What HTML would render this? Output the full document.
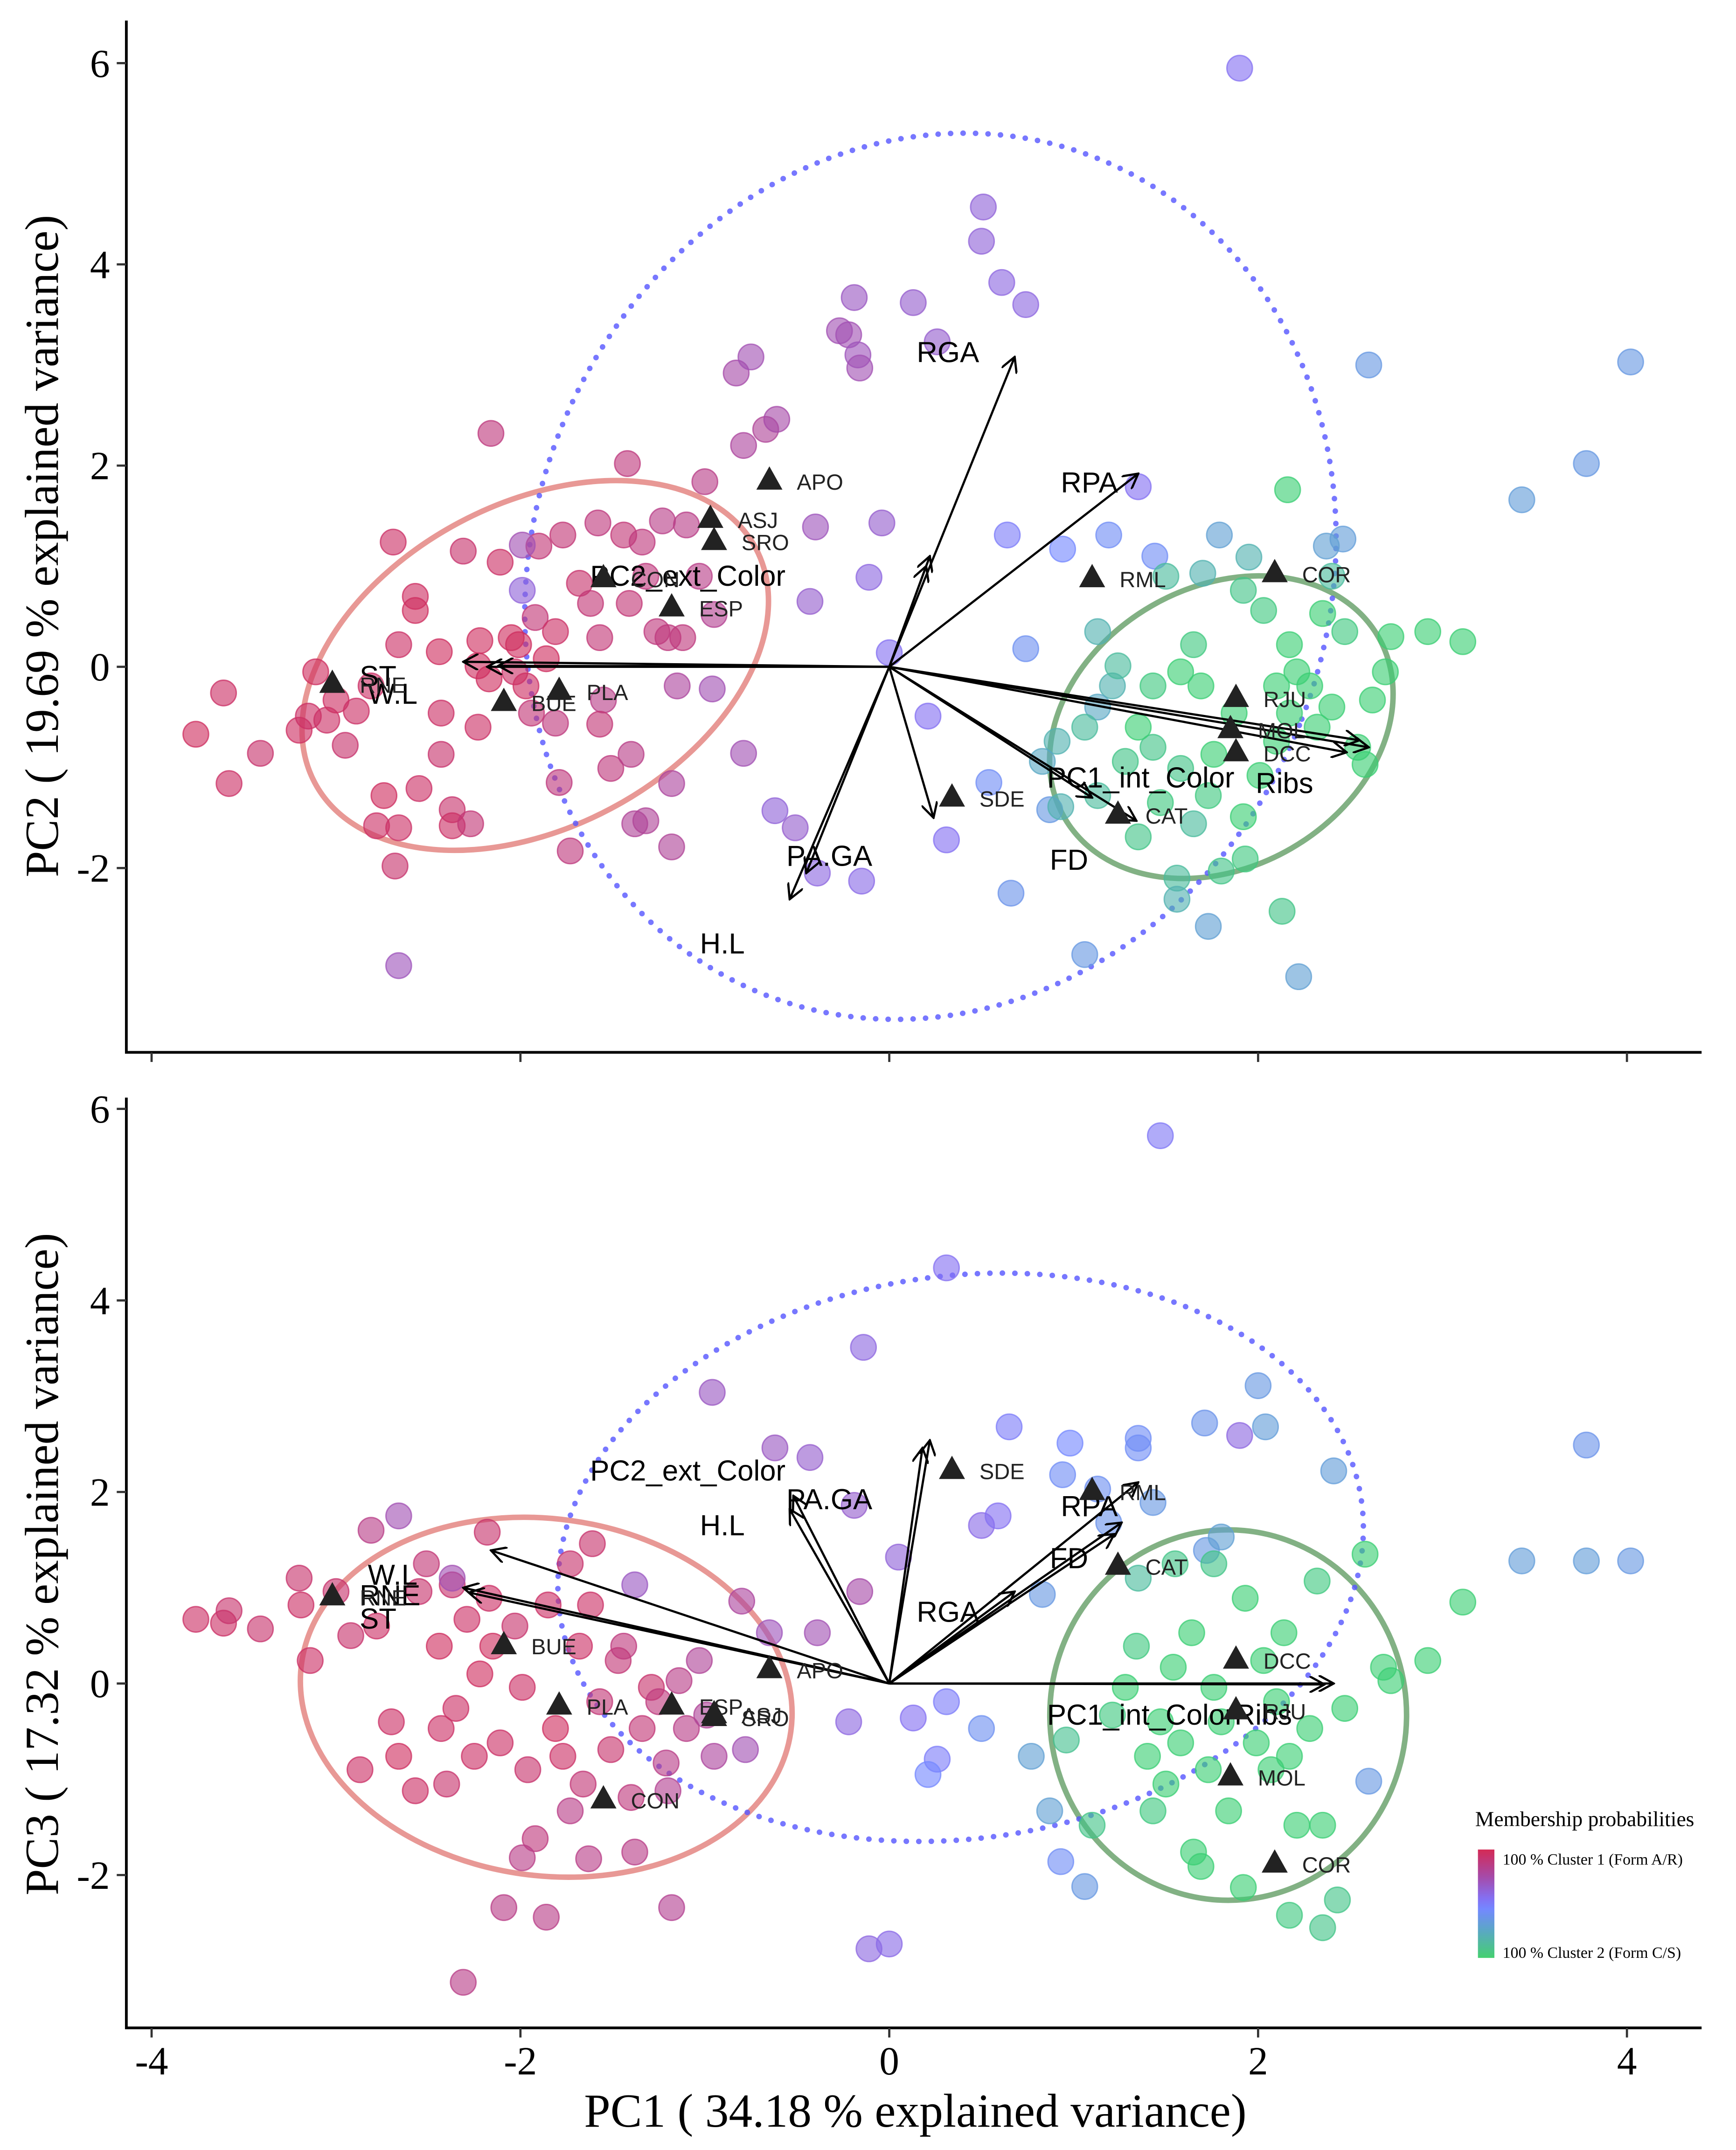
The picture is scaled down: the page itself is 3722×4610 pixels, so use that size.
<!DOCTYPE html>
<html><head><meta charset="utf-8"><style>
html,body{margin:0;padding:0;background:#fff;}
svg{display:block;}
</style></head><body>
<svg id="chart" xmlns="http://www.w3.org/2000/svg" width="3722" height="4610" viewBox="0 0 1265 1567">
<defs>
<linearGradient id="legGrad" x1="0" y1="0" x2="0" y2="1">
<stop offset="0" stop-color="#d42a55"/><stop offset="0.25" stop-color="#a64aa8"/><stop offset="0.45" stop-color="#8470f2"/><stop offset="0.55" stop-color="#7488ff"/><stop offset="0.75" stop-color="#5aa8c4"/><stop offset="1" stop-color="#45d070"/>
</linearGradient>
<marker id="ah" viewBox="0 0 12 12" refX="11" refY="6" markerWidth="12" markerHeight="12" markerUnits="userSpaceOnUse" orient="auto"><path d="M0,0 L11,6 L0,12" fill="none" stroke="#000" stroke-width="1.6"/></marker>
</defs>
<g id="top"></g>
<g id="bot"></g>
<g font-family="Liberation Serif, serif">
<text x="1075" y="1331" font-size="15.5">Membership probabilities</text>
<rect x="1077" y="1348" width="12" height="79" fill="url(#legGrad)"/>
<text x="1095" y="1359" font-size="11.5">100 % Cluster 1 (Form A/R)</text>
<text x="1095" y="1427" font-size="11.5">100 % Cluster 2 (Form C/S)</text>
</g>
<text x="667" y="1550" font-family="Liberation Serif, serif" font-size="34.5" text-anchor="middle">PC1 ( 34.18 % explained variance)</text>
<text transform="translate(42,398) rotate(-90)" font-family="Liberation Serif, serif" font-size="34.5" text-anchor="middle">PC2 ( 19.69 % explained variance)</text>
<text transform="translate(42,1140) rotate(-90)" font-family="Liberation Serif, serif" font-size="34.5" text-anchor="middle">PC3 ( 17.32 % explained variance)</text>
</svg>
<script>
// ---- data: top panel (PC1 vs PC2) ----
const topPC1 = [-3.76,-3.61,-3.58,-3.41,-3.2,-3.15,-3.11,-3.05,-3.0,-2.95,-2.89,-2.81,-2.74,-2.78,-2.66,-2.68,-2.69,-2.57,-2.57,-2.66,-2.44,-2.55,-2.43,-2.43,-2.37,-2.37,-2.27,-2.31,-2.22,-2.23,-2.23,-2.16,-2.17,-2.11,-2.05,-2.01,-2.03,-1.97,-1.92,-1.9,-1.86,-1.81,-1.81,-1.94,-1.79,-1.73,-1.77,-1.68,-1.62,-1.58,-1.57,-1.55,-1.51,-1.44,-1.42,-1.41,-1.4,-1.34,-1.32,-1.26,-1.23,-1.2,-1.12,-1.1,-1.03,-1.0,-0.95,-1.38,-1.32,-1.18,-1.18,-1.15,-1.57,
-2.66,-1.99,-1.99,-0.96,-0.83,-0.79,-0.79,-0.75,-0.67,-0.61,-0.4,-0.43,-0.27,-0.22,-0.19,-0.17,-0.16,-0.04,-0.11,0,0.13,0.26,0.5,0.51,0.61,0.74,-0.62,-0.51,-0.39,-0.15,0.21,0.31,0.64,1.9,1.35,
0.94,1.19,1.44,0.74,0.66,1.06,0.87,0.54,2.6,4.02,3.78,3.43,2.46,2.37,1.79,1.73,2.22,
2.16,1.5,1.7,1.95,1.92,2.03,2.17,2.21,2.35,2.4,2.47,2.72,2.92,3.11,2.69,2.58,2.4,2.28,2.17,2.1,2.01,1.92,1.93,1.8,1.56,1.56,2.13,1.65,1.73,1.58,1.43,1.35,1.43,1.58,1.69,1.21,1.13,1.06,0.91,0.83,0.93,1.35,1.47,1.13,1.28,1.76,1.87,2.1,2.32,2.54,2.62,1.24,1.13,1.65];
const topPC2 = [-0.67,-0.26,-1.16,-0.86,-0.63,-0.49,-0.05,-0.53,-0.33,-0.78,-0.44,-0.19,-1.28,-1.58,-1.6,-1.98,1.24,0.7,0.56,0.22,0.15,-1.21,-0.87,-0.46,-1.42,-1.58,-1.56,1.15,0.26,0.01,-0.6,2.32,-0.12,1.04,0.29,0.22,-0.05,-0.19,0.49,1.2,0.08,0.35,-0.56,-0.46,-1.15,-1.83,1.31,0.83,0.63,1.43,0.29,-0.33,-1.01,1.31,2.02,0.63,-0.87,1.24,0.9,0.35,1.45,0.29,0.29,1.41,0.9,1.84,0.52,-1.56,-1.53,-1.16,-1.79,-0.19,-0.57,
-2.97,1.21,0.76,-0.22,2.92,-0.86,2.2,3.08,2.36,2.46,1.39,0.65,3.34,3.3,3.67,3.1,2.97,1.43,0.89,0.14,3.62,3.23,4.23,4.57,3.82,3.6,-1.43,-1.6,-2.05,-2.13,-0.49,-1.72,1.31,5.95,1.79,
1.17,1.31,1.1,0.18,-2.25,-2.86,-1.42,-1.15,3.0,3.03,2.02,1.66,1.27,1.2,1.31,-2.58,-3.08,
1.76,0.9,0.93,1.09,0.76,0.56,0.22,-0.05,0.53,0.9,0.35,0.3,0.35,0.25,-0.05,-0.97,-0.4,-0.19,-0.46,-0.74,-1.08,-1.49,-1.91,-2.03,-2.1,-2.31,-2.43,-1.56,-1.28,-1.01,-0.8,-0.6,-0.19,-0.05,-0.19,-0.19,-0.4,-0.6,-0.74,-0.94,-1.39,-1.69,-1.35,-1.28,-0.94,-0.87,-0.46,-0.19,-0.6,-0.8,-0.33,0.01,0.35,0.22];
const topMember = [0.97,0.95,0.95,0.93,0.96,0.95,0.97,0.95,0.96,0.93,0.95,0.95,0.97,0.95,0.95,0.93,0.95,0.96,0.97,0.95,0.97,0.95,0.93,0.95,0.93,0.95,0.9,0.93,0.97,0.97,0.95,0.88,0.97,0.95,0.97,0.97,0.95,0.96,0.9,0.9,0.97,0.95,0.88,0.9,0.88,0.88,0.9,0.93,0.9,0.88,0.9,0.85,0.88,0.9,0.88,0.9,0.85,0.88,0.88,0.88,0.85,0.88,0.88,0.85,0.85,0.85,0.82,0.8,0.8,0.78,0.8,0.78,0.9,
0.7,0.72,0.62,0.72,0.75,0.72,0.78,0.72,0.8,0.75,0.7,0.65,0.72,0.72,0.68,0.7,0.72,0.65,0.6,0.55,0.65,0.65,0.62,0.62,0.6,0.6,0.62,0.65,0.6,0.58,0.55,0.55,0.5,0.55,0.55,
0.45,0.42,0.42,0.4,0.38,0.35,0.35,0.42,0.35,0.35,0.35,0.32,0.32,0.3,0.3,0.3,0.3,
0.05,0.15,0.2,0.2,0.1,0.08,0.05,0.05,0.05,0.15,0.08,0.05,0.05,0.05,0.05,0.05,0.05,0.05,0.05,0.05,0.05,0.05,0.08,0.1,0.15,0.2,0.1,0.15,0.08,0.1,0.1,0.05,0.08,0.05,0.05,0.2,0.25,0.15,0.2,0.25,0.2,0.1,0.08,0.15,0.1,0.05,0.05,0.05,0.05,0.05,0.05,0.15,0.2,0.08];
const topSiteNames = ["APO","ASJ","SRO","CON","ESP","RNE","BUE","PLA","RML","COR","RJU","MOL","DCC","SDE","CAT"];
const topSitePC1 = [-0.65,-0.97,-0.95,-1.55,-1.18,-3.02,-2.09,-1.79,1.1,2.09,1.88,1.85,1.88,0.34,1.24];
const topSitePC2 = [1.87,1.49,1.27,0.9,0.61,-0.15,-0.33,-0.22,0.9,0.95,-0.29,-0.6,-0.83,-1.28,-1.45];
const topVarNames = ["W.L","ST","RNE","PC2_ext_Color","PC2b","RGA","RPA","PC1_int_Color","Ribs","PC1c","FD","FD2","SDEv","PA.GA","H.L"];
const topVarPC1 = [-2.31,-2.18,-2.12,0.22,0.2,0.68,1.35,2.6,2.55,2.48,1.34,1.1,0.24,-0.54,-0.45];
const topVarPC2 = [0.05,0.0,0.01,1.1,1.0,3.08,1.92,-0.8,-0.73,-0.85,-1.53,-1.3,-1.5,-2.31,-2.05];

// ---- data: bottom panel (PC1 vs PC3) ----
const botPC1 = [-3.76,-3.61,-3.58,-3.41,-3.2,-3.19,-3.14,-3.0,-2.92,-2.87,-2.81,-2.78,-2.7,-2.66,-2.57,-2.55,-2.51,-2.44,-2.43,-2.4,-2.37,-2.35,-2.31,-2.29,-2.25,-2.22,-2.18,-2.17,-2.15,-2.11,-2.09,-2.03,-1.99,-1.96,-1.92,-1.86,-1.85,-1.81,-1.77,-1.73,-1.68,-1.66,-1.62,-1.61,-1.57,-1.51,-1.47,-1.44,-1.4,-1.38,-1.34,-1.29,-1.25,-1.21,-1.2,-1.18,-1.14,-1.1,-1.03,-0.99,-0.95,-1.99,-1.73,-1.63,
-2.66,-2.37,-1.38,-0.96,-0.8,-0.78,-0.65,-0.62,-0.43,-0.39,-0.22,-0.19,-0.16,-0.14,-0.11,0,0.05,0.13,0.26,0.31,0.31,0.5,0.59,0.65,1.47,1.9,
0.21,0.5,0.83,0.98,0.94,1.13,1.19,1.35,1.35,1.43,1.71,2.0,2.04,2.41,1.72,1.8,3.78,3.43,4.02,3.78,2.6,0.93,1.06,0.77,0.87,
0.96,1.1,1.21,1.28,1.34,1.4,1.43,1.47,1.5,1.54,1.58,1.64,1.65,1.69,1.73,1.76,1.8,1.84,1.92,1.93,1.99,2.03,2.07,2.1,2.14,2.17,2.17,2.21,2.28,2.32,2.35,2.35,2.43,2.47,2.58,2.68,2.72,2.92,3.11,1.35,1.55,1.76];
const botPC3 = [0.67,0.63,0.76,0.57,1.1,0.82,0.24,0.96,0.5,-0.9,1.6,0.6,-0.4,-0.76,-1.12,0.96,1.25,0.39,-0.47,-1.05,1.03,-0.26,-3.12,0.67,-0.76,0.1,1.58,0.89,0.39,-0.62,-2.34,0.6,-0.04,-0.9,-1.62,-2.44,0.82,-0.47,-0.76,1.25,0.39,-1.05,0.82,1.46,-0.19,-0.69,0.24,0.39,-1.19,-1.76,-0.47,-0.04,-0.19,-0.83,-1.12,-2.34,0.03,-0.47,0.24,-0.33,-0.76,-1.82,-1.33,-1.83,
1.75,1.1,1.03,3.04,0.86,-0.69,0.53,2.46,2.36,0.53,-0.4,1.86,0.96,3.51,-2.77,-2.72,1.32,-0.36,-0.79,4.34,-0.19,1.65,1.75,2.68,5.72,2.59,
-0.95,-0.47,0.93,2.51,2.18,2.03,1.68,2.56,2.46,1.89,2.72,3.11,2.68,2.22,1.39,1.53,1.28,1.28,1.28,2.49,-1.02,-1.86,-2.12,-0.76,-1.33,
-0.59,-1.48,-0.33,-0.04,0.39,-0.76,-1.33,-0.4,-1.05,0.17,-0.62,0.53,-1.76,-1.91,-0.9,-0.04,-0.4,-1.33,-2.13,0.89,-0.62,0.24,-0.9,-0.19,0.53,-0.76,-2.42,-1.48,-0.47,1.07,-1.48,-2.55,-2.26,-0.26,1.35,0.17,0.03,0.24,0.85,1.1,1.25,1.25];
const botMember = [0.95,0.95,0.93,0.93,0.93,0.95,0.95,0.93,0.93,0.95,0.85,0.95,0.95,0.97,0.95,0.93,0.9,0.97,0.95,0.93,0.93,0.95,0.85,0.95,0.95,0.97,0.93,0.95,0.97,0.95,0.85,0.93,0.95,0.93,0.88,0.85,0.95,0.97,0.95,0.93,0.95,0.9,0.95,0.93,0.9,0.93,0.9,0.88,0.88,0.85,0.9,0.93,0.88,0.85,0.82,0.82,0.85,0.85,0.8,0.8,0.78,0.85,0.85,0.85,
0.72,0.72,0.68,0.68,0.78,0.72,0.7,0.68,0.65,0.72,0.6,0.65,0.75,0.6,0.6,0.58,0.62,0.55,0.5,0.55,0.5,0.58,0.55,0.5,0.52,0.6,
0.45,0.4,0.35,0.45,0.42,0.4,0.38,0.42,0.42,0.35,0.38,0.35,0.32,0.32,0.35,0.3,0.32,0.32,0.35,0.38,0.35,0.42,0.35,0.3,0.3,
0.12,0.1,0.08,0.05,0.08,0.05,0.08,0.05,0.05,0.05,0.05,0.05,0.05,0.05,0.05,0.05,0.05,0.05,0.05,0.05,0.05,0.05,0.05,0.05,0.05,0.05,0.08,0.05,0.05,0.08,0.05,0.1,0.1,0.05,0.05,0.05,0.05,0.05,0.05,0.15,0.1,0.1];
const botSiteNames = ["SDE","RML","CAT","BUE","RNE","APO","PLA","ESP","ASJ","SRO","CON","DCC","RJU","MOL","COR"];
const botSitePC1 = [0.34,1.1,1.24,-2.09,-3.02,-0.65,-1.79,-1.18,-0.95,-0.95,-1.55,1.88,1.88,1.85,2.09];
const botSitePC3 = [2.25,2.03,1.25,0.42,0.93,0.17,-0.21,-0.21,-0.3,-0.33,-1.19,0.27,-0.26,-0.95,-1.86];
const botVarNames = ["W.L","ST","RNE","PA.GA","H.L","PC2_ext_Color","PC2b","RGA","RPA","FD","FD2","PC1_int_Color","Ribs"];
const botVarPC1 = [-2.16,-2.31,-2.28,-0.52,-0.54,0.22,0.18,0.68,1.35,1.26,1.22,2.41,2.36];
const botVarPC3 = [1.39,1.0,0.95,1.96,1.82,2.54,2.46,0.96,2.1,1.68,1.56,0.0,-0.01];

const xTicks = [-4,-2,0,2,4];
const yTicks = [-2,0,2,4,6];

const NS = "http://www.w3.org/2000/svg";
function mk(parent, tag, attrs){const e=document.createElementNS(NS,tag);for(const k in attrs)e.setAttribute(k,attrs[k]);parent.appendChild(e);return e;}
const X = v => 648 + v*134.4;
const YT = v => 486 - v*73.33;
const YB = v => 1227 - v*69.8;

const stops=[[0,[50,215,95]],[0.25,[90,168,196]],[0.45,[116,136,255]],[0.55,[132,112,242]],[0.75,[166,74,168]],[1,[212,42,85]]];
function col(p){for(let i=1;i<stops.length;i++){if(p<=stops[i][0]){const a=stops[i-1],b=stops[i];const t=(p-a[0])/(b[0]-a[0]);const c=a[1].map((v,j)=>Math.round(v+(b[1][j]-v)*t));return `rgb(${c[0]},${c[1]},${c[2]})`;}}return "rgb(212,42,85)";}

function panel(g, Y, top, bottom, px, py, pm, sn, sx, sy, vx, vy, vn, ellipses, varLabels, showXLabels){
  ellipses.forEach(el=>{
    const e=mk(g,'ellipse',{cx:el.cx,cy:el.cy,rx:el.rx,ry:el.ry,transform:`rotate(${el.rot} ${el.cx} ${el.cy})`,fill:'none',stroke:el.stroke,'stroke-width':el.w,'stroke-opacity':el.op});
    if(el.dash){e.setAttribute('stroke-dasharray','0.1 9');e.setAttribute('stroke-linecap','round');}
    
    
  });
  for(let i=0;i<px.length;i++){
    const c=col(pm[i]);
    const p=mk(g,'circle',{cx:X(px[i]),cy:Y(py[i]),r:9.3,fill:c,'fill-opacity':0.62,stroke:c,'stroke-opacity':0.75,'stroke-width':1});
    
    
  }
  for(let i=0;i<vx.length;i++){
    const a=mk(g,'line',{x1:X(0),y1:Y(0),x2:X(vx[i]),y2:Y(vy[i]),stroke:'#000','stroke-width':1.6,'marker-end':'url(#ah)'});
    
    
  }
  varLabels.forEach(l=>{
    const t=mk(g,'text',{x:l[1],y:l[2],'font-family':'Liberation Sans, sans-serif','font-size':21});
    t.textContent=l[0];
    
    
  });
  for(let i=0;i<sx.length;i++){
    const cx=X(sx[i]),cy=Y(sy[i]);
    const tr=mk(g,'path',{d:`M${cx},${cy-9} L${cx+9.5},${cy+8} L${cx-9.5},${cy+8} Z`,fill:'#222'});
    
    
    const t=mk(g,'text',{x:cx+20,y:cy+8,'font-family':'Liberation Sans, sans-serif','font-size':16,fill:'#222'});
    t.textContent=sn[i];
    
    
  }
  const ax=mk(g,'path',{d:`M92,${top} L92,${bottom} L1240,${bottom}`,fill:'none',stroke:'#000','stroke-width':2});
  
  
  xTicks.forEach(v=>{
    const tk=mk(g,'line',{x1:X(v),y1:bottom,x2:X(v),y2:bottom+7,stroke:'#333','stroke-width':1.6});
    
    
    if(showXLabels){
      const t=mk(g,'text',{x:X(v),y:bottom+34,'text-anchor':'middle','font-family':'Liberation Serif, serif','font-size':29});
      t.textContent=String(v);
      
      
    }
  });
  yTicks.forEach(v=>{
    const y=Y(v);
    const tk=mk(g,'line',{x1:85,y1:y,x2:92,y2:y,stroke:'#333','stroke-width':1.6});
    
    
    const t=mk(g,'text',{x:80,y:y+10,'text-anchor':'end','font-family':'Liberation Serif, serif','font-size':29});
    t.textContent=String(v);
    
    
  });
}

panel(document.getElementById('top'), YT, 15, 767, topPC1, topPC2, topMember, topSiteNames, topSitePC1, topSitePC2, topVarPC1, topVarPC2, topVarNames,
 [{cx:390,cy:485,rx:182,ry:118,rot:-28,stroke:'#d9534f',w:4,op:0.6,name:'cluster1-ellipse'},
  {cx:890,cy:530,rx:132,ry:102,rot:-30,stroke:'#2e7d32',w:4,op:0.6,name:'cluster2-ellipse'},
  {cx:678,cy:420,rx:290,ry:328,rot:22,stroke:'#5555ff',w:4,op:0.8,dash:true,name:'intermediate-ellipse'}],
 [["ST",262,500],["W.L",268,513],["PC2_ext_Color",430,427],["RGA",668,264],["RPA",773,359],["PC1_int_Color",763,574],["Ribs",915,578],["FD",765,634],["PA.GA",573,631],["H.L",510,695]], false);

panel(document.getElementById('bot'), YB, 800, 1478, botPC1, botPC3, botMember, botSiteNames, botSitePC1, botSitePC3, botVarPC1, botVarPC3, botVarNames,
 [{cx:398,cy:1237,rx:180,ry:130,rot:8,stroke:'#d9534f',w:4,op:0.6,name:'cluster1-ellipse'},
  {cx:895,cy:1250,rx:130,ry:135,rot:0,stroke:'#2e7d32',w:4,op:0.6,name:'cluster2-ellipse'},
  {cx:700,cy:1135,rx:295,ry:205,rot:-8,stroke:'#5555ff',w:4,op:0.8,dash:true,name:'intermediate-ellipse'}],
 [["PC2_ext_Color",430,1079],["PA.GA",573,1100],["H.L",510,1119],["W.L",268,1155],["RNE",262,1170],["ST",262,1187],["RGA",668,1182],["RPA",773,1105],["FD",765,1143],["PC1_int_ColorRibs",763,1257]], true);
</script>
</body></html>
